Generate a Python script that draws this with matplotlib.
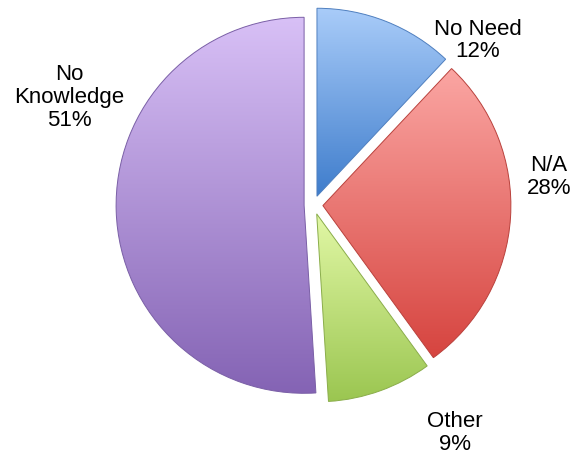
import numpy as np
import matplotlib
matplotlib.use("Agg")
import matplotlib.pyplot as plt
from matplotlib.colors import LinearSegmentedColormap

# survey answers, clockwise from 12 o'clock
labels = ["No Need", "N/A", "Other", "No\nKnowledge"]
shares = [12, 28, 9, 51]

# (top, bottom) shade of each slice
top_colors = ["#a9ccf9", "#fba6a3", "#e2f8a6", "#d8c0f6"]
bottom_colors = ["#3f7dcc", "#d6443f", "#9bc651", "#8463b4"]
edge_colors = ["#4f7fbf", "#b9413c", "#8aad4a", "#7a5fa6"]

# where each label block sits (axes data units, pie radius = 1)
label_xy = [(0.875, 0.875), (1.253, 0.150), (0.753, -1.212), (-1.301, 0.574)]

W, H, DPI = 581, 458, 100
PX = 188.0          # pixels per unit radius
CX, CY = 313.5, 205.0  # pie centre in pixels from top-left

fig = plt.figure(figsize=(W / DPI, H / DPI), dpi=DPI)
ax = fig.add_axes([0, 0, 1, 1])

wedges, _ = ax.pie(
    shares,
    startangle=90,
    counterclock=False,
    explode=[0.05] * len(shares),
    radius=1.0,
    wedgeprops=dict(linewidth=0, facecolor="none"),
)

grad = np.linspace(0, 1, 256).reshape(-1, 1)
for w, c0, c1, ec in zip(wedges, top_colors, bottom_colors, edge_colors):
    # vertical gradient across the slice's own bounding box, light at top
    verts = w.get_path().vertices
    x0, y0 = verts.min(axis=0)
    x1, y1 = verts.max(axis=0)
    cmap = LinearSegmentedColormap.from_list("s", [c0, c1])
    im = ax.imshow(grad, cmap=cmap, extent=[x0, x1, y0, y1], origin="upper",
                   aspect="auto", interpolation="bicubic", zorder=1)
    im.set_clip_path(w)
    # thin bevel-like outline
    w.set_edgecolor(ec)
    w.set_linewidth(0.7)
    w.set_zorder(2)

font = ["Liberation Sans Narrow", "Liberation Sans", "DejaVu Sans"]
for lab, pct, (lx, ly) in zip(labels, shares, label_xy):
    ax.text(lx, ly, f"{lab}\n{pct}%", ha="center", va="center",
            fontsize=16, family=font, linespacing=1.12, color="black")

ax.set_xlim(-CX / PX, (W - CX) / PX)
ax.set_ylim(-(H - CY) / PX, CY / PX)
ax.set_aspect("equal")
ax.axis("off")
fig.savefig("out.png", dpi=DPI, facecolor="white")
